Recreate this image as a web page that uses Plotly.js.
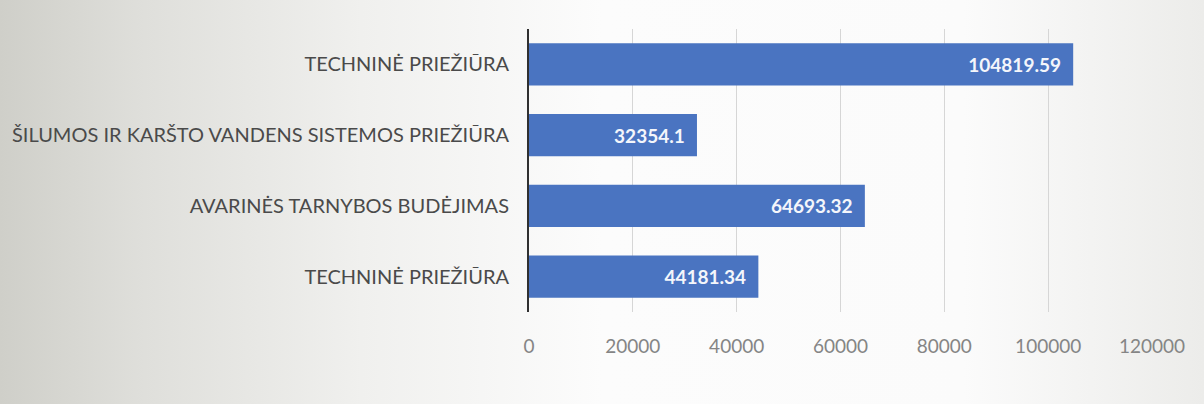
<!DOCTYPE html>
<html>
<head>
<meta charset="utf-8">
<script src="https://cdn.plot.ly/plotly-3.0.1.min.js"></script>
<style>
html,body{margin:0;padding:0;}
body{width:1204px;height:404px;overflow:hidden;
background:linear-gradient(to right,#cfcfc9 0%,#dfdfdb 12%,#f0f0ee 30%,#fcfcfc 50%,#fbfbfb 80%,#ececea 100%);}
#chart{width:1204px;height:404px;}
</style>
</head>
<body>
<div id="chart"></div>
<script>
var categories = ["TECHNINĖ PRIEŽIŪRA", "ŠILUMOS IR KARŠTO VANDENS SISTEMOS PRIEŽIŪRA", "AVARINĖS TARNYBOS BUDĖJIMAS", "TECHNINĖ PRIEŽIŪRA"];
var values = [104819.59, 32354.1, 64693.32, 44181.34];
var valueLabels = ["104819.59", "32354.1", "64693.32", "44181.34"];
var xTicks = [0, 20000, 40000, 60000, 80000, 100000, 120000];

var positions = categories.map(function(c, i){ return i; });

var trace = {
  type: 'bar',
  orientation: 'h',
  x: values,
  y: positions,
  text: valueLabels,
  texttemplate: '%{text}\u00a0\u00a0',
  textposition: 'inside',
  insidetextanchor: 'end',
  textangle: 0,
  textfont: {family: 'Lato, sans-serif', size: 19, color: '#f4f6fb', weight: 'bold'},
  marker: {color: '#4a74c1'},
  width: 0.6,
  hoverinfo: 'skip'
};

var layout = {
  width: 1204, height: 404,
  margin: {l: 529, r: 52, t: 29, b: 92},
  paper_bgcolor: 'rgba(0,0,0,0)',
  plot_bgcolor: 'rgba(0,0,0,0)',
  showlegend: false,
  font: {family: 'Lato, sans-serif', color: '#595959'},
  xaxis: {
    range: [0, 120000],
    tickvals: xTicks,
    ticktext: xTicks.map(String),
    showgrid: true, gridcolor: '#d6d6d6', gridwidth: 1,
    zeroline: false, showline: false,
    ticks: '', ticklabelstandoff: 21,
    tickfont: {size: 19, color: '#858585'}
  },
  yaxis: {
    range: [3.5, -0.5],
    tickvals: positions,
    ticktext: categories,
    showgrid: false, zeroline: false,
    showline: true, linecolor: '#303030', linewidth: 2,
    ticks: '', ticklabelstandoff: 14,
    tickfont: {size: 20, color: '#4a4a4a'}
  }
};

Plotly.newPlot('chart', [trace], layout, {displayModeBar: false, staticPlot: true});
</script>
</body>
</html>
